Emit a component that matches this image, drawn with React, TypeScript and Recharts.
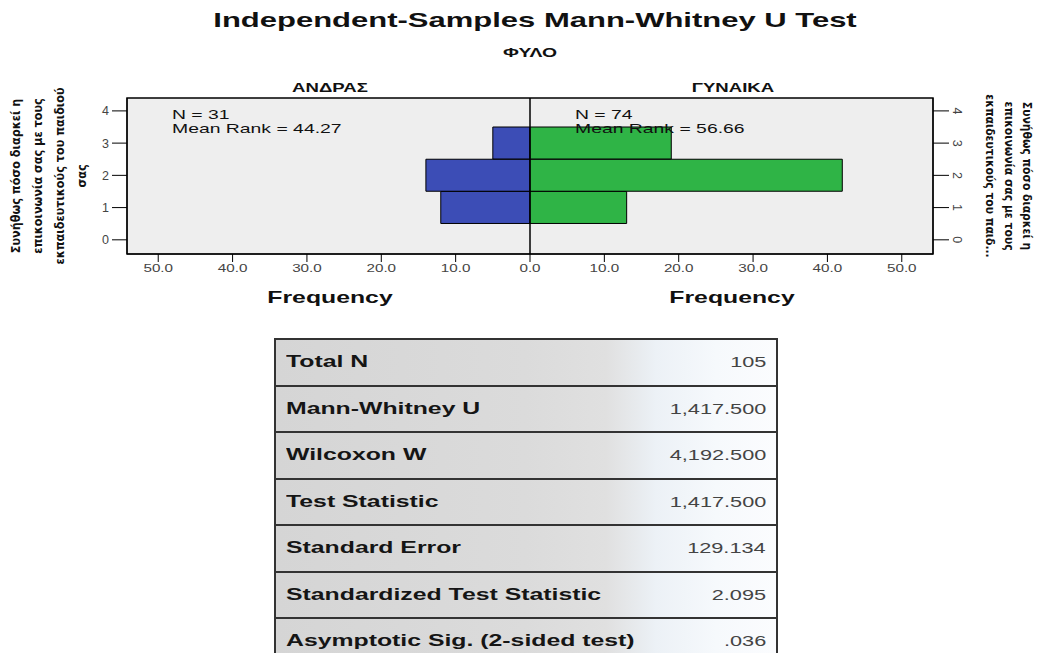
import { BarChart, Bar, XAxis, YAxis, CartesianGrid, ReferenceLine, ReferenceArea } from 'recharts';

// histogram of the ordinal answer, split by gender
const rankValues = [1, 2, 3];
const maleCounts = [12, 14, 5];
const femaleCounts = [13, 42, 19];
const rankTicks = [0, 1, 2, 3, 4];
const freqTicks = [-50, -40, -30, -20, -10, 0, 10, 20, 30, 40, 50];

const groupNames = ['ΑΝΔΡΑΣ', 'ΓΥΝΑΙΚΑ'];
const groupN = [31, 74];
const meanRanks = ['44.27', '56.66'];

const leftTitleLines = ['Συνήθως πόσο διαρκεί η', 'επικοινωνία σας με τους', 'εκπαιδευτικούς του παιδιού', 'σας'];
const rightTitleLines = ['Συνήθως πόσο διαρκεί η', 'επικοινωνία σας με τους', 'εκπαιδευτικούς του παιδ...'];

const statLabels = [
  'Total N',
  'Mann-Whitney U',
  'Wilcoxon W',
  'Test Statistic',
  'Standard Error',
  'Standardized Test Statistic',
  'Asymptotic Sig. (2-sided test)',
];
const statValues = ['105', '1,417.500', '4,192.500', '1,417.500', '129.134', '2.095', '.036'];

const X_DOMAIN: [number, number] = [-54.2, 54.2];
const Y_DOMAIN: [number, number] = [-0.44, 4.4];

const ARIAL = "'Liberation Sans', Arial, Helvetica, sans-serif";
const NARROW = "'Liberation Sans Narrow', 'DejaVu Sans Condensed', sans-serif";
const SX = 1.55;
const BLUE = '#3c4db6';
const GREEN = '#2fb446';

const data = rankValues.map((r, i) => ({
  rank: r,
  male: -maleCounts[i],
  female: femaleCounts[i],
}));

function WideText({ x, y, size, bold, anchor = 'start', children }: any) {
  return (
    <text
      transform={`translate(${x},${y}) scale(${SX},1)`}
      fontSize={size}
      fontWeight={bold ? 'bold' : 'normal'}
      textAnchor={anchor}
      fontFamily={ARIAL}
      fill="#111"
    >
      {children}
    </text>
  );
}

const FreqTick = ({ x, y, payload }: any) => (
  <g transform={`translate(${x},${y})`}>
    <text transform={`scale(1.45,1)`} textAnchor="middle" dy="0.71em" fontSize={10.5} fill="#444" fontFamily={ARIAL}>
      {Math.abs(payload.value).toFixed(1)}
    </text>
  </g>
);

const RightRankTick = ({ x, y, payload }: any) => (
  <text
    transform={`translate(${x + 6},${y}) rotate(90)`}
    textAnchor="middle"
    dominantBaseline="central"
    fontSize={12.5}
    fill="#444"
    fontFamily={ARIAL}
  >
    {payload.value}
  </text>
);

function StatsTable() {
  return (
    <div
      style={{
        position: 'absolute',
        left: 274,
        top: 338,
        width: 504,
        borderLeft: '2px solid #333',
        borderRight: '2px solid #333',
        borderTop: '2px solid #333',
        boxSizing: 'border-box',
        background:
          'linear-gradient(to right, #d5d5d5 0%, #dbdbdb 50%, #e0e0e0 66%, #ecf1f6 76%, #f6f9fc 88%, #fbfcfe 100%)',
      }}
    >
      {statLabels.map((lab, i) => (
        <div
          key={lab}
          style={{
            height: 46.5,
            boxSizing: 'border-box',
            borderBottom: '2px solid #333',
            display: 'flex',
            alignItems: 'center',
            justifyContent: 'space-between',
            padding: '0 10px 0 10px',
            fontFamily: ARIAL,
          }}
        >
          <span
            style={{
              display: 'inline-block',
              fontWeight: 'bold',
              fontSize: 16,
              color: '#151515',
              transform: `scaleX(${SX})`,
              transformOrigin: 'left center',
            }}
          >
            {lab}
          </span>
          <span
            style={{
              display: 'inline-block',
              fontSize: 14,
              color: '#444',
              transform: `scaleX(${SX})`,
              transformOrigin: 'right center',
            }}
          >
            {statValues[i]}
          </span>
        </div>
      ))}
    </div>
  );
}

export default function App() {
  return (
    <div style={{ position: 'relative', width: 1043, height: 653, overflow: 'hidden', background: '#fff' }}>
      <style>{'body{margin:0}'}</style>
      <div style={{ position: 'absolute', left: 0, top: 0 }}>
        <BarChart
          layout="vertical"
          width={1043}
          height={310}
          data={data}
          margin={{ top: 98, right: 70, bottom: 26, left: 87 }}
          stackOffset="sign"
          barCategoryGap={0}
        >
          <CartesianGrid fill="#eeeeee" horizontal={false} vertical={false} />
          <XAxis
            type="number"
            domain={X_DOMAIN}
            ticks={freqTicks}
            allowDataOverflow
            height={30}
            tickSize={8}
            tickMargin={3}
            stroke="#000"
            tick={<FreqTick />}
          />
          <YAxis
            yAxisId="left"
            type="number"
            dataKey="rank"
            domain={Y_DOMAIN}
            ticks={rankTicks}
            allowDataOverflow
            reversed
            width={40}
            tickSize={15}
            tickMargin={3}
            stroke="#000"
            tick={{ fontSize: 12.5, fill: '#444', fontFamily: ARIAL }}
          />
          <YAxis
            yAxisId="right"
            orientation="right"
            type="number"
            dataKey="rank"
            domain={Y_DOMAIN}
            ticks={rankTicks}
            allowDataOverflow
            reversed
            width={40}
            tickSize={16}
            tickMargin={2}
            stroke="#000"
            tick={<RightRankTick />}
          />
          <ReferenceArea
            yAxisId="left"
            x1={X_DOMAIN[0]}
            x2={X_DOMAIN[1]}
            y1={Y_DOMAIN[0]}
            y2={Y_DOMAIN[1]}
            fill="none"
            fillOpacity={0}
            stroke="#000"
            strokeWidth={1.5}
          />
          <Bar yAxisId="left" dataKey="male" stackId="freq" fill={BLUE} stroke="#000" strokeWidth={1} isAnimationActive={false} />
          <Bar yAxisId="left" dataKey="female" stackId="freq" fill={GREEN} stroke="#000" strokeWidth={1} isAnimationActive={false} />
          <ReferenceLine yAxisId="left" x={0} stroke="#000" strokeWidth={1.5} />
        </BarChart>
      </div>

      <svg width={1043} height={330} style={{ position: 'absolute', left: 0, top: 0, pointerEvents: 'none' }}>
        <WideText x={535} y={27} size={20} bold anchor="middle">
          Independent-Samples Mann-Whitney U Test
        </WideText>
        <WideText x={530} y={57} size={12.5} bold anchor="middle">
          ΦΥΛΟ
        </WideText>
        <WideText x={330} y={92} size={12} bold anchor="middle">
          {groupNames[0]}
        </WideText>
        <WideText x={733} y={92} size={12} bold anchor="middle">
          {groupNames[1]}
        </WideText>

        <WideText x={172} y={118.5} size={12.5}>{`N = ${groupN[0]}`}</WideText>
        <WideText x={172} y={133} size={12.5}>{`Mean Rank = ${meanRanks[0]}`}</WideText>
        <WideText x={575} y={118.5} size={12.5}>{`N = ${groupN[1]}`}</WideText>
        <WideText x={575} y={133} size={12.5}>{`Mean Rank = ${meanRanks[1]}`}</WideText>

        <WideText x={330} y={303} size={16} bold anchor="middle">
          Frequency
        </WideText>
        <WideText x={732} y={303} size={16} bold anchor="middle">
          Frequency
        </WideText>

        {leftTitleLines.map((line, i) => (
          <text
            key={`l${i}`}
            transform={`translate(${15 + i * 22},176) rotate(-90)`}
            textAnchor="middle"
            dominantBaseline="central"
            fontSize={12.5}
            fontWeight="bold"
            fontFamily={NARROW}
            fill="#111"
          >
            {line}
          </text>
        ))}
        {rightTitleLines.map((line, i) => (
          <text
            key={`r${i}`}
            transform={`translate(${1027 - i * 18.5},176) rotate(90)`}
            textAnchor="middle"
            dominantBaseline="central"
            fontSize={12}
            fontWeight="bold"
            fontFamily={NARROW}
            fill="#111"
          >
            {line}
          </text>
        ))}
      </svg>

      <StatsTable />
    </div>
  );
}
